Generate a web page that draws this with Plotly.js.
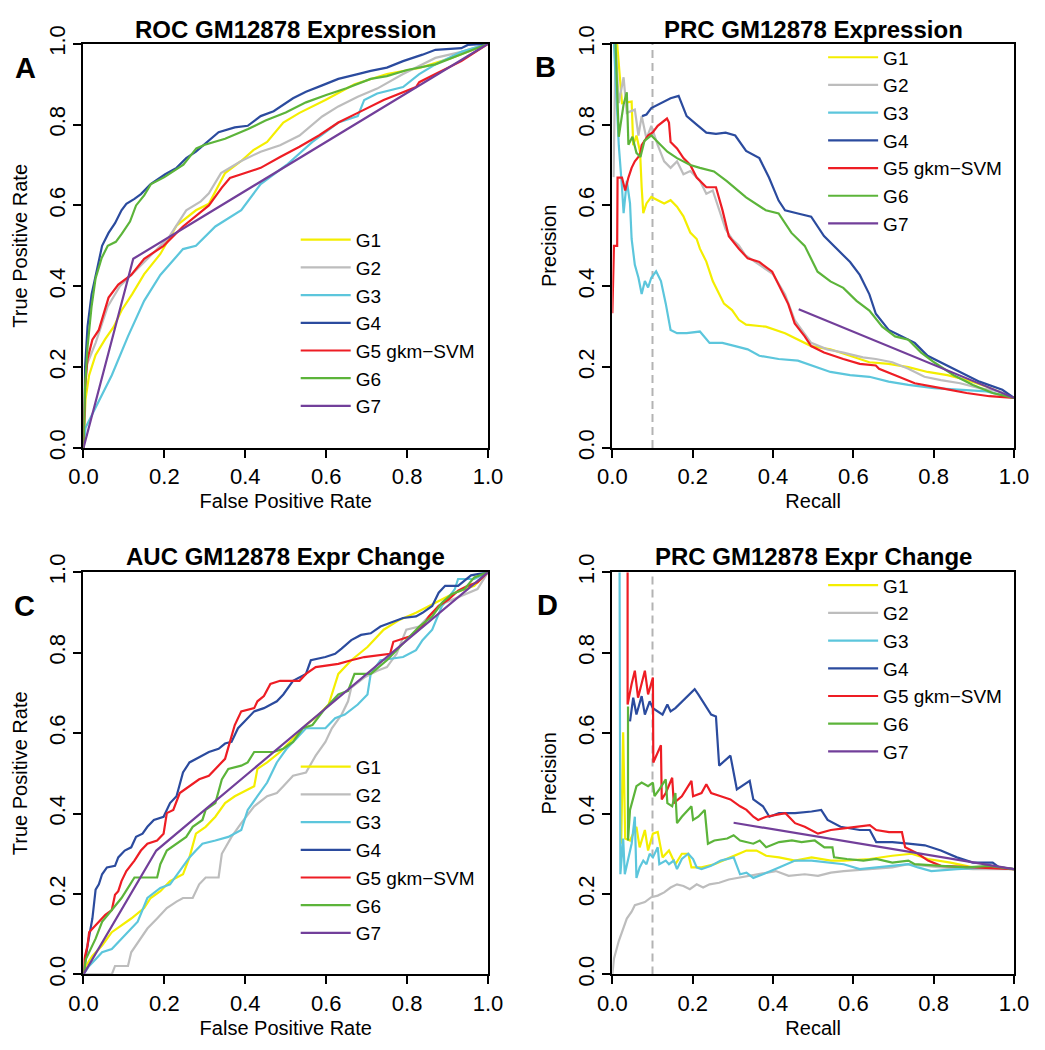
<!DOCTYPE html>
<html>
<head>
<meta charset="utf-8">
<script src="https://cdn.plot.ly/plotly-3.0.1.min.js"></script>
<style>html,body{margin:0;padding:0;background:#fff;}#chart{width:1045px;height:1050px;}</style>
</head>
<body>
<div id="chart"></div>
<script>
// ---------- data ----------
const seriesNames = ["G1", "G2", "G3", "G4", "G5 gkm\u2212SVM", "G6", "G7"];
const seriesColors = ["#f4ee00", "#bdbdbd", "#5cc6dc", "#2b4b9e", "#ee1d24", "#5cb43a", "#723f9a"];
const tickValues = [0, 0.2, 0.4, 0.6, 0.8, 1.0];
const tickLabels = ["0.0", "0.2", "0.4", "0.6", "0.8", "1.0"];
const panelTitles = ["ROC GM12878 Expression", "PRC GM12878 Expression", "AUC GM12878 Expr Change", "PRC GM12878 Expr Change"];
const panelLetters = ["A", "B", "C", "D"];
const xTitles = ["False Positive Rate", "Recall", "False Positive Rate", "Recall"];
const yTitles = ["True Positive Rate", "Precision", "True Positive Rate", "Precision"];
const cutoffRecall = [0.1, 0.1];
const cutoffSpan = [0, 1];

// Panel A: ROC, expression
const A_G1_x = [0,0.005,0.014,0.03,0.054,0.075,0.094,0.12,0.15,0.19,0.23,0.278,0.31,0.35,0.39,0.42,0.454,0.494,0.534,0.598,0.67,0.75,0.83,0.91,1];
const A_G1_y = [0,0.12,0.18,0.23,0.27,0.3,0.34,0.38,0.43,0.48,0.55,0.588,0.604,0.68,0.71,0.737,0.757,0.805,0.829,0.861,0.9,0.925,0.94,0.965,1];
const A_G2_x = [0,0.005,0.014,0.03,0.06,0.09,0.12,0.15,0.18,0.21,0.254,0.29,0.31,0.34,0.39,0.438,0.486,0.534,0.59,0.63,0.678,0.726,0.79,0.87,0.934,1];
const A_G2_y = [0,0.2,0.22,0.26,0.35,0.4,0.43,0.46,0.49,0.52,0.588,0.61,0.63,0.68,0.71,0.733,0.749,0.773,0.82,0.845,0.869,0.889,0.925,0.965,0.98,1];
const A_G3_x = [0,0.005,0.03,0.07,0.11,0.15,0.19,0.246,0.278,0.326,0.39,0.438,0.502,0.566,0.63,0.678,0.694,0.726,0.79,0.83,0.87,0.934,1];
const A_G3_y = [0,0.05,0.1,0.18,0.276,0.364,0.428,0.492,0.5,0.548,0.588,0.653,0.7,0.757,0.805,0.821,0.861,0.877,0.893,0.925,0.949,0.98,1];
const A_G4_x = [0,0.004,0.01,0.02,0.034,0.046,0.062,0.078,0.094,0.106,0.126,0.142,0.166,0.19,0.202,0.23,0.254,0.278,0.302,0.334,0.374,0.406,0.438,0.47,0.518,0.55,0.59,0.63,0.678,0.71,0.75,0.79,0.838,0.87,0.934,0.95,1];
const A_G4_y = [0,0.2,0.3,0.38,0.444,0.5,0.532,0.556,0.588,0.604,0.616,0.628,0.653,0.669,0.677,0.693,0.717,0.733,0.753,0.781,0.793,0.797,0.821,0.833,0.865,0.881,0.897,0.913,0.925,0.933,0.941,0.957,0.973,0.985,0.989,0.997,1];
const A_G5_x = [0,0.004,0.01,0.022,0.038,0.062,0.086,0.118,0.15,0.198,0.246,0.31,0.342,0.362,0.39,0.438,0.486,0.534,0.582,0.63,0.678,0.742,0.822,0.83,0.87,0.934,1];
const A_G5_y = [0,0.15,0.22,0.268,0.292,0.372,0.404,0.428,0.468,0.5,0.548,0.6,0.644,0.668,0.677,0.693,0.72,0.745,0.773,0.805,0.829,0.861,0.893,0.905,0.925,0.957,1];
const A_G6_x = [0,0.004,0.01,0.02,0.03,0.045,0.06,0.08,0.095,0.115,0.13,0.15,0.167,0.2,0.247,0.279,0.3,0.35,0.407,0.45,0.5,0.55,0.6,0.65,0.71,0.75,0.8,0.87,0.95,1];
const A_G6_y = [0,0.15,0.25,0.35,0.42,0.47,0.5,0.51,0.53,0.56,0.6,0.625,0.653,0.67,0.701,0.741,0.75,0.765,0.789,0.81,0.83,0.855,0.873,0.89,0.913,0.92,0.935,0.949,0.98,1];
const A_G7_x = [0,0.123,1];
const A_G7_y = [0,0.468,1];

// Panel B: PRC, expression
const B_G1_x = [0.012,0.024,0.048,0.052,0.06,0.069,0.073,0.077,0.085,0.097,0.113,0.129,0.145,0.161,0.177,0.194,0.21,0.218,0.234,0.25,0.262,0.278,0.298,0.315,0.333,0.382,0.43,0.462,0.495,0.543,0.592,0.64,0.688,0.737,0.785,0.834,0.882,0.931,1];
const B_G1_y = [1.0,0.853,0.857,0.749,0.773,0.733,0.645,0.581,0.605,0.621,0.613,0.605,0.613,0.597,0.573,0.533,0.517,0.493,0.461,0.413,0.389,0.357,0.341,0.317,0.305,0.3,0.284,0.268,0.252,0.244,0.228,0.212,0.208,0.2,0.188,0.18,0.168,0.152,0.124];
const B_G2_x = [0.003,0.008,0.016,0.028,0.036,0.056,0.065,0.073,0.085,0.097,0.113,0.129,0.145,0.161,0.177,0.194,0.218,0.234,0.25,0.266,0.282,0.298,0.315,0.331,0.37,0.4,0.43,0.454,0.495,0.535,0.575,0.624,0.656,0.697,0.737,0.777,0.818,0.866,0.914,0.963,1];
const B_G2_y = [0.67,1.0,0.853,0.917,0.829,0.837,0.773,0.821,0.765,0.797,0.749,0.709,0.693,0.709,0.677,0.685,0.661,0.629,0.637,0.589,0.541,0.517,0.501,0.477,0.45,0.43,0.38,0.316,0.26,0.244,0.236,0.224,0.22,0.212,0.196,0.176,0.168,0.16,0.148,0.14,0.124];
const B_G3_x = [0.004,0.016,0.024,0.028,0.036,0.044,0.048,0.056,0.065,0.073,0.081,0.089,0.097,0.109,0.121,0.133,0.145,0.161,0.185,0.218,0.242,0.274,0.306,0.337,0.366,0.414,0.462,0.495,0.543,0.592,0.64,0.688,0.737,0.801,0.866,0.931,1];
const B_G3_y = [1.0,0.749,0.645,0.581,0.661,0.605,0.517,0.453,0.421,0.381,0.413,0.397,0.421,0.437,0.413,0.357,0.292,0.284,0.284,0.288,0.26,0.26,0.252,0.244,0.228,0.22,0.216,0.204,0.188,0.18,0.176,0.164,0.156,0.148,0.144,0.14,0.124];
const B_G4_x = [0.074,0.085,0.097,0.105,0.121,0.145,0.165,0.185,0.21,0.234,0.258,0.282,0.306,0.333,0.366,0.39,0.414,0.43,0.462,0.495,0.527,0.559,0.592,0.616,0.64,0.656,0.688,0.721,0.753,0.785,0.818,0.866,0.914,0.971,1];
const B_G4_y = [0.821,0.825,0.841,0.845,0.853,0.865,0.871,0.821,0.8,0.78,0.777,0.78,0.773,0.735,0.717,0.669,0.612,0.588,0.58,0.572,0.524,0.492,0.46,0.428,0.38,0.332,0.292,0.276,0.26,0.228,0.212,0.188,0.164,0.144,0.124];
const B_G5_x = [0.0,0.004,0.012,0.013,0.024,0.032,0.04,0.048,0.056,0.069,0.073,0.089,0.101,0.113,0.136,0.141,0.145,0.161,0.177,0.194,0.21,0.234,0.258,0.274,0.29,0.315,0.337,0.366,0.398,0.414,0.438,0.454,0.479,0.495,0.527,0.575,0.616,0.656,0.664,0.704,0.753,0.818,0.882,0.939,1];
const B_G5_y = [0.333,0.5,0.5,0.669,0.669,0.637,0.669,0.693,0.709,0.725,0.749,0.773,0.781,0.797,0.815,0.805,0.757,0.741,0.717,0.7,0.669,0.645,0.645,0.589,0.524,0.493,0.469,0.46,0.436,0.404,0.356,0.308,0.276,0.252,0.236,0.22,0.208,0.204,0.196,0.18,0.16,0.148,0.136,0.128,0.124];
const B_G6_x = [0.008,0.016,0.028,0.036,0.04,0.05,0.06,0.07,0.08,0.097,0.121,0.137,0.161,0.194,0.218,0.253,0.285,0.333,0.382,0.414,0.446,0.479,0.511,0.543,0.575,0.608,0.64,0.672,0.704,0.737,0.769,0.801,0.85,0.898,0.947,1];
const B_G6_y = [1.0,0.77,0.85,0.88,0.75,0.77,0.73,0.72,0.76,0.773,0.749,0.733,0.717,0.7,0.693,0.684,0.66,0.62,0.588,0.58,0.532,0.5,0.436,0.412,0.396,0.364,0.34,0.3,0.276,0.268,0.236,0.212,0.18,0.156,0.136,0.124];
const B_G7_x = [0.464,1];
const B_G7_y = [0.343,0.124];

// Panel C: ROC, expression change
const C_G1_x = [0,0.006,0.022,0.046,0.07,0.094,0.118,0.15,0.166,0.19,0.214,0.246,0.262,0.278,0.302,0.326,0.35,0.374,0.406,0.422,0.43,0.454,0.486,0.518,0.55,0.582,0.606,0.63,0.662,0.702,0.742,0.782,0.822,0.87,0.918,0.966,1];
const C_G1_y = [0,0.021,0.046,0.072,0.105,0.122,0.139,0.165,0.19,0.207,0.232,0.249,0.291,0.35,0.367,0.392,0.426,0.443,0.46,0.468,0.511,0.527,0.553,0.586,0.62,0.646,0.671,0.747,0.781,0.814,0.857,0.882,0.899,0.924,0.949,0.966,1];
const C_G2_x = [0,0.07,0.078,0.11,0.118,0.142,0.158,0.182,0.206,0.23,0.246,0.27,0.286,0.302,0.334,0.342,0.366,0.39,0.422,0.454,0.478,0.494,0.518,0.55,0.574,0.598,0.614,0.638,0.654,0.662,0.694,0.726,0.75,0.774,0.798,0.83,0.862,0.894,0.934,0.974,1];
const C_G2_y = [0,0,0.021,0.021,0.055,0.089,0.114,0.139,0.165,0.181,0.19,0.19,0.224,0.241,0.241,0.3,0.342,0.376,0.418,0.443,0.451,0.468,0.494,0.502,0.544,0.578,0.612,0.646,0.679,0.713,0.738,0.755,0.764,0.797,0.857,0.865,0.899,0.924,0.941,0.958,1];
const C_G3_x = [0,0.014,0.03,0.046,0.07,0.086,0.11,0.134,0.158,0.19,0.214,0.238,0.262,0.278,0.294,0.326,0.358,0.39,0.406,0.43,0.454,0.478,0.502,0.526,0.55,0.598,0.622,0.646,0.678,0.702,0.71,0.734,0.79,0.822,0.838,0.862,0.886,0.918,0.926,0.966,1];
const C_G3_y = [0,0.021,0.038,0.055,0.063,0.08,0.105,0.131,0.19,0.215,0.224,0.257,0.291,0.308,0.325,0.333,0.342,0.359,0.409,0.443,0.477,0.527,0.561,0.586,0.612,0.612,0.637,0.646,0.671,0.696,0.747,0.781,0.789,0.806,0.831,0.857,0.916,0.958,0.983,0.983,1];
const C_G4_x = [0,0.006,0.01,0.022,0.03,0.038,0.046,0.058,0.078,0.086,0.102,0.118,0.13,0.146,0.158,0.174,0.198,0.214,0.23,0.246,0.262,0.286,0.31,0.334,0.35,0.366,0.382,0.398,0.422,0.446,0.478,0.494,0.518,0.55,0.562,0.598,0.622,0.638,0.662,0.686,0.71,0.734,0.766,0.79,0.822,0.838,0.862,0.878,0.894,0.926,0.958,1];
const C_G4_y = [0,0.046,0.072,0.139,0.211,0.224,0.249,0.266,0.27,0.291,0.308,0.316,0.342,0.35,0.367,0.384,0.392,0.426,0.443,0.502,0.527,0.54,0.553,0.561,0.574,0.578,0.612,0.629,0.654,0.662,0.679,0.696,0.73,0.747,0.781,0.789,0.797,0.81,0.831,0.844,0.848,0.865,0.878,0.886,0.89,0.899,0.916,0.949,0.966,0.966,0.992,1];
const C_G5_x = [0,0.002,0.01,0.014,0.03,0.054,0.07,0.078,0.086,0.094,0.106,0.126,0.142,0.158,0.182,0.198,0.206,0.222,0.238,0.262,0.286,0.31,0.334,0.35,0.362,0.374,0.39,0.422,0.43,0.446,0.462,0.486,0.534,0.55,0.574,0.63,0.662,0.694,0.758,0.766,0.806,0.838,0.854,0.878,0.902,0.926,0.95,0.974,1];
const C_G5_y = [0,0.038,0.072,0.105,0.122,0.148,0.16,0.198,0.207,0.232,0.257,0.283,0.308,0.325,0.333,0.35,0.401,0.409,0.451,0.468,0.485,0.494,0.519,0.536,0.578,0.62,0.654,0.662,0.679,0.692,0.722,0.73,0.73,0.747,0.764,0.772,0.781,0.789,0.797,0.827,0.84,0.865,0.89,0.916,0.932,0.954,0.966,0.975,1];
const C_G6_x = [0,0.006,0.03,0.046,0.07,0.094,0.11,0.126,0.182,0.19,0.206,0.23,0.254,0.27,0.294,0.302,0.326,0.342,0.358,0.39,0.406,0.422,0.47,0.494,0.518,0.542,0.566,0.598,0.63,0.654,0.67,0.71,0.75,0.774,0.798,0.83,0.862,0.886,0.91,0.942,0.966,1];
const C_G6_y = [0,0.038,0.089,0.131,0.16,0.19,0.215,0.241,0.241,0.274,0.308,0.325,0.342,0.367,0.384,0.409,0.426,0.485,0.511,0.519,0.527,0.553,0.553,0.561,0.578,0.612,0.62,0.662,0.696,0.705,0.747,0.747,0.781,0.806,0.831,0.865,0.89,0.924,0.945,0.958,0.987,1];
const C_G7_x = [0,0.18,1];
const C_G7_y = [0,0.308,1];

// Panel D: PRC, expression change
const D_G1_x = [0.022,0.027,0.032,0.044,0.06,0.068,0.081,0.089,0.101,0.113,0.125,0.141,0.157,0.173,0.189,0.197,0.222,0.254,0.294,0.334,0.359,0.383,0.415,0.455,0.496,0.544,0.576,0.641,0.697,0.745,0.786,0.842,0.898,1];
const D_G1_y = [0.325,0.602,0.338,0.333,0.367,0.316,0.359,0.308,0.35,0.354,0.291,0.308,0.274,0.3,0.3,0.266,0.266,0.274,0.291,0.308,0.308,0.295,0.291,0.283,0.291,0.283,0.283,0.287,0.295,0.3,0.287,0.278,0.266,0.262];
const D_G2_x = [0.0,0.004,0.016,0.036,0.048,0.056,0.081,0.097,0.113,0.129,0.145,0.161,0.177,0.193,0.21,0.226,0.242,0.266,0.29,0.314,0.339,0.361,0.407,0.439,0.479,0.512,0.544,0.576,0.641,0.697,0.737,0.778,0.818,0.898,1];
const D_G2_y = [0.0,0.039,0.083,0.139,0.156,0.172,0.18,0.192,0.196,0.204,0.216,0.224,0.22,0.212,0.224,0.216,0.224,0.228,0.236,0.24,0.244,0.248,0.257,0.245,0.249,0.245,0.253,0.257,0.262,0.266,0.274,0.27,0.266,0.262,0.262];
const D_G3_x = [0.018,0.02,0.027,0.031,0.048,0.056,0.06,0.068,0.077,0.085,0.093,0.101,0.113,0.117,0.133,0.141,0.153,0.161,0.173,0.189,0.201,0.21,0.222,0.246,0.27,0.302,0.318,0.334,0.351,0.375,0.415,0.455,0.496,0.536,0.576,0.616,0.657,0.737,0.761,0.794,0.858,0.939,1];
const D_G3_y = [1.0,0.249,0.338,0.249,0.325,0.392,0.24,0.266,0.283,0.274,0.3,0.291,0.316,0.274,0.283,0.274,0.283,0.262,0.287,0.3,0.287,0.266,0.262,0.27,0.283,0.291,0.249,0.253,0.24,0.249,0.266,0.283,0.283,0.278,0.274,0.262,0.266,0.274,0.266,0.257,0.262,0.266,0.262];
const D_G4_x = [0.044,0.052,0.06,0.073,0.081,0.093,0.101,0.125,0.137,0.145,0.157,0.205,0.214,0.23,0.246,0.258,0.266,0.294,0.302,0.31,0.342,0.351,0.375,0.391,0.415,0.455,0.496,0.52,0.536,0.568,0.616,0.641,0.657,0.697,0.737,0.778,0.818,0.858,0.898,0.947,0.963,1];
const D_G4_y = [0.629,0.688,0.646,0.692,0.646,0.679,0.662,0.646,0.671,0.654,0.662,0.709,0.696,0.671,0.646,0.641,0.519,0.544,0.502,0.46,0.481,0.435,0.418,0.392,0.401,0.401,0.405,0.409,0.384,0.367,0.359,0.359,0.329,0.329,0.325,0.321,0.308,0.291,0.278,0.278,0.266,0.262];
const D_G5_x = [0.038,0.038,0.048,0.056,0.064,0.081,0.089,0.101,0.102,0.121,0.123,0.133,0.149,0.153,0.173,0.197,0.201,0.222,0.234,0.246,0.27,0.294,0.318,0.334,0.351,0.363,0.383,0.407,0.431,0.455,0.479,0.512,0.544,0.576,0.608,0.641,0.657,0.689,0.721,0.729,0.761,0.786,0.818,0.898,1];
const D_G5_y = [1.0,0.671,0.722,0.755,0.688,0.755,0.696,0.738,0.527,0.57,0.435,0.451,0.489,0.426,0.443,0.481,0.443,0.451,0.473,0.451,0.443,0.435,0.418,0.409,0.392,0.384,0.392,0.397,0.401,0.376,0.367,0.35,0.359,0.363,0.367,0.371,0.359,0.354,0.354,0.316,0.3,0.283,0.27,0.266,0.262];
const D_G6_x = [0.039,0.039,0.044,0.06,0.073,0.089,0.101,0.105,0.117,0.133,0.137,0.149,0.157,0.161,0.173,0.189,0.197,0.201,0.214,0.23,0.238,0.254,0.286,0.302,0.318,0.351,0.367,0.383,0.415,0.447,0.471,0.504,0.528,0.548,0.552,0.584,0.625,0.657,0.697,0.737,0.753,0.818,0.882,0.939,1];
const D_G6_y = [0.666,0.333,0.409,0.468,0.477,0.468,0.477,0.443,0.46,0.485,0.426,0.418,0.451,0.376,0.392,0.409,0.418,0.384,0.392,0.409,0.325,0.333,0.338,0.346,0.333,0.325,0.333,0.316,0.329,0.333,0.329,0.333,0.316,0.316,0.291,0.287,0.283,0.287,0.278,0.283,0.274,0.27,0.266,0.27,0.262];
const D_G7_x = [0.302,1];
const D_G7_y = [0.377,0.262];

const panelSeries = [
  [[A_G1_x,A_G1_y],[A_G2_x,A_G2_y],[A_G3_x,A_G3_y],[A_G4_x,A_G4_y],[A_G5_x,A_G5_y],[A_G6_x,A_G6_y],[A_G7_x,A_G7_y]],
  [[B_G1_x,B_G1_y],[B_G2_x,B_G2_y],[B_G3_x,B_G3_y],[B_G4_x,B_G4_y],[B_G5_x,B_G5_y],[B_G6_x,B_G6_y],[B_G7_x,B_G7_y]],
  [[C_G1_x,C_G1_y],[C_G2_x,C_G2_y],[C_G3_x,C_G3_y],[C_G4_x,C_G4_y],[C_G5_x,C_G5_y],[C_G6_x,C_G6_y],[C_G7_x,C_G7_y]],
  [[D_G1_x,D_G1_y],[D_G2_x,D_G2_y],[D_G3_x,D_G3_y],[D_G4_x,D_G4_y],[D_G5_x,D_G5_y],[D_G6_x,D_G6_y],[D_G7_x,D_G7_y]]
];
const hasCutoffLine = [false, true, false, true];

// ---------- layout geometry (pixels) ----------
const W = 1045, H = 1050;
const px = v => v / W, py = v => 1 - v / H;
const boxes = [
  {l:70.5, r:487, t:25.5, b:442},
  {l:615, r:1028.5, t:25.5, b:442},
  {l:70.5, r:487, t:570, b:984.5},
  {l:615, r:1028.5, t:570, b:984.5}
];
const legendPos = [
  {x:289, y:208}, {x:832, y:20}, {x:289, y:751}, {x:832, y:564}
];
const titleY = [11, 11, 554, 554];
const letterPos = [{x:11,y:50},{x:546,y:49},{x:10,y:605},{x:548,y:604}];

const FONT = "Liberation Sans, Arial, Helvetica, sans-serif";
const traces = [];
const layout = {
  width: W, height: H,
  margin: {l:0, r:0, t:0, b:0},
  paper_bgcolor: "#ffffff", plot_bgcolor: "#ffffff",
  font: {family: FONT, color: "#000000", size: 20},
  showlegend: true,
  annotations: []
};

panelSeries.forEach((series, p) => {
  const sfx = p === 0 ? "" : String(p + 1);
  const xa = "x" + sfx, ya = "y" + sfx;
  const legName = p === 0 ? "legend" : "legend" + (p + 1);
  if (hasCutoffLine[p]) {
    traces.push({x: cutoffRecall, y: cutoffSpan, xaxis: xa, yaxis: ya, mode: "lines",
      line: {color: "#b3b3b3", width: 2, dash: "8px,5px"}, showlegend: false, hoverinfo: "skip"});
  }
  series.forEach((s, i) => {
    traces.push({x: s[0], y: s[1], xaxis: xa, yaxis: ya, mode: "lines", name: seriesNames[i],
      legend: legName, line: {color: seriesColors[i], width: 2.2}, showlegend: true});
  });
  const b = boxes[p];
  const axisCommon = {
    range: [0, 1], tickmode: "array", tickvals: tickValues, ticktext: tickLabels,
    showline: true, mirror: true, linewidth: 2, linecolor: "#000000",
    ticks: "outside", ticklen: 8, tickwidth: 2, tickcolor: "#000000",
    showgrid: false, zeroline: false, fixedrange: true,
    tickfont: {family: FONT, size: 22, color: "#000000"}, automargin: true
  };
  layout["xaxis" + sfx] = Object.assign({}, axisCommon, {
    domain: [px(b.l), px(b.r)], anchor: ya,
    title: {text: xTitles[p], font: {family: FONT, size: 20}, standoff: 6}
  });
  layout["yaxis" + sfx] = Object.assign({}, axisCommon, {
    domain: [py(b.b), py(b.t)], anchor: xa, tickangle: -90,
    title: {text: yTitles[p], font: {family: FONT, size: 20}, standoff: 12}
  });
  layout[legName] = {
    x: px(legendPos[p].x), y: py(legendPos[p].y), xanchor: "left", yanchor: "top",
    bgcolor: "rgba(0,0,0,0)", borderwidth: 0, font: {family: FONT, size: 19, color: "#000000"},
    tracegroupgap: 0, itemwidth: 50
  };
  layout.annotations.push({
    text: panelTitles[p], xref: "paper", yref: "paper",
    x: px((b.l + b.r) / 2), y: py(titleY[p]), xanchor: "center", yanchor: "middle",
    showarrow: false, font: {family: FONT, size: 24, weight: "bold", color: "#000000"}
  });
  layout.annotations.push({
    text: panelLetters[p], xref: "paper", yref: "paper",
    x: px(letterPos[p].x), y: py(letterPos[p].y), xanchor: "center", yanchor: "middle",
    showarrow: false, font: {family: FONT, size: 29, weight: "bold", color: "#000000"}
  });
});

Plotly.newPlot("chart", traces, layout, {staticPlot: true, displayModeBar: false});
</script>
</body>
</html>
